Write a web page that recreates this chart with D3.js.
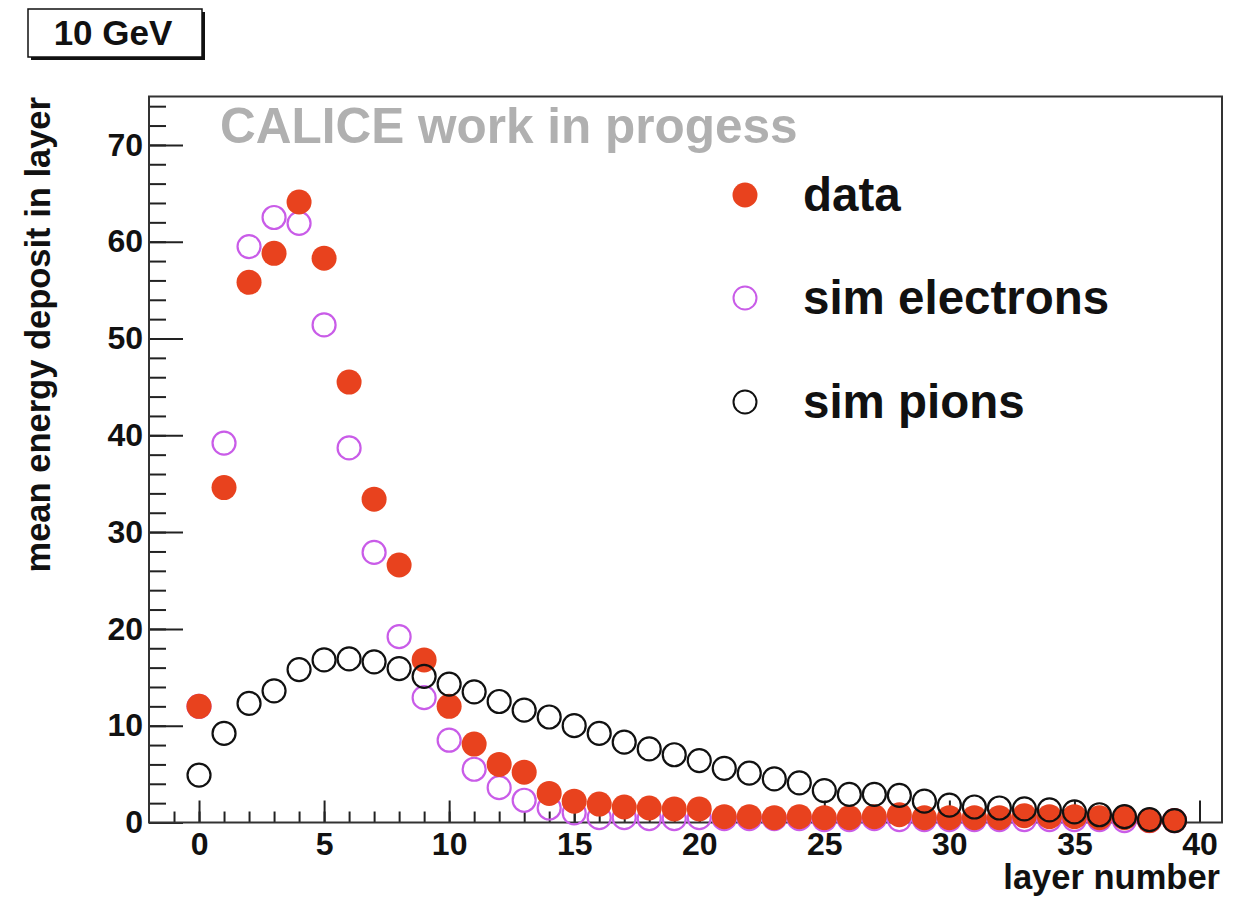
<!DOCTYPE html>
<html>
<head>
<meta charset="utf-8">
<script src="https://cdn.jsdelivr.net/npm/d3@7"></script>
<style>
  html, body { margin: 0; padding: 0; background: #fff; }
  svg { display: block; font-family: "Liberation Sans", Arial, Helvetica, sans-serif; font-weight: bold; }
</style>
</head>
<body>
<svg id="chart" width="1245" height="899"></svg>
<script>
// Mean energy deposit per layer, 10 GeV beam
const layers = d3.range(0, 40);

const dataValues = [
  12.0, 34.6, 55.8, 58.8, 64.1, 58.3, 45.5, 33.4, 26.6, 16.8,
  12.0, 8.1, 6.0, 5.2, 3.0, 2.2, 1.9, 1.6, 1.5, 1.4,
  1.4, 0.6, 0.6, 0.5, 0.6, 0.5, 0.5, 0.6, 0.8, 0.5,
  0.5, 0.5, 0.5, 0.7, 0.6, 0.6, 0.5, 0.5, 0.2, 0.2
];

const simElectrons = [
  12.0, 39.2, 59.5, 62.5, 61.9, 51.4, 38.7, 27.9, 19.2, 12.9,
  8.5, 5.5, 3.6, 2.3, 1.5, 1.0, 0.5, 0.5, 0.4, 0.4,
  0.5, 0.4, 0.4, 0.4, 0.4, 0.3, 0.3, 0.4, 0.3, 0.3,
  0.3, 0.3, 0.3, 0.3, 0.3, 0.3, 0.3, 0.2, 0.2, 0.2
];

const simPions = [
  4.9, 9.2, 12.3, 13.6, 15.8, 16.8, 16.9, 16.6, 15.9, 15.1,
  14.3, 13.5, 12.5, 11.6, 10.9, 10.0, 9.2, 8.3, 7.6, 7.0,
  6.4, 5.6, 5.1, 4.5, 4.1, 3.3, 2.9, 2.9, 2.8, 2.2,
  1.8, 1.6, 1.5, 1.4, 1.3, 1.1, 0.8, 0.6, 0.3, 0.2
];

const xTickValues = [0, 5, 10, 15, 20, 25, 30, 35, 40];
const yTickValues = [0, 10, 20, 30, 40, 50, 60, 70];
const legendLabels = ["data", "sim electrons", "sim pions"];

const colors = { data: "#e8421e", electrons: "#c95ce8", pions: "#111111" };

const svg = d3.select("#chart");

const frame = { left: 149, right: 1222, top: 96.5, bottom: 822.5 };

const x = d3.scaleLinear().domain([-2, 40.9]).range([frame.left, frame.right]);
const y = d3.scaleLinear().domain([0, 75]).range([frame.bottom, frame.top]);

// Minor ticks
svg.append("g")
  .attr("transform", `translate(0,${frame.bottom})`)
  .call(d3.axisBottom(x).tickValues(d3.range(-1, 41)).tickSizeInner(-11).tickSizeOuter(0).tickFormat(""))
  .call(g => g.select(".domain").remove())
  .call(g => g.selectAll("line").attr("stroke", "#222").attr("stroke-width", 2));

svg.append("g")
  .attr("transform", `translate(${frame.left},0)`)
  .call(d3.axisLeft(y).tickValues(d3.range(0, 75, 2)).tickSizeInner(-17).tickSizeOuter(0).tickFormat(""))
  .call(g => g.select(".domain").remove())
  .call(g => g.selectAll("line").attr("stroke", "#222").attr("stroke-width", 2));

// Major ticks with labels
svg.append("g")
  .attr("transform", `translate(0,${frame.bottom})`)
  .call(d3.axisBottom(x).tickValues(xTickValues).tickSizeInner(-22).tickSizeOuter(0).tickPadding(10).tickFormat(d3.format("d")))
  .call(g => g.select(".domain").remove())
  .call(g => g.selectAll("line").attr("stroke", "#222").attr("stroke-width", 2))
  .call(g => g.selectAll("text").attr("fill", "#111").style("font-size", "32px").style("font-weight", "bold")
    .style("font-family", "'Liberation Sans', Arial, sans-serif"));

svg.append("g")
  .attr("transform", `translate(${frame.left},0)`)
  .call(d3.axisLeft(y).tickValues(yTickValues).tickSizeInner(-34).tickSizeOuter(0).tickPadding(6).tickFormat(d3.format("d")))
  .call(g => g.select(".domain").remove())
  .call(g => g.selectAll("line").attr("stroke", "#222").attr("stroke-width", 2))
  .call(g => g.selectAll("text").attr("fill", "#111").style("font-size", "32px").style("font-weight", "bold")
    .style("font-family", "'Liberation Sans', Arial, sans-serif"));

// Frame
svg.append("rect")
  .attr("x", frame.left).attr("y", frame.top)
  .attr("width", frame.right - frame.left).attr("height", frame.bottom - frame.top)
  .attr("fill", "none").attr("stroke", "#333").attr("stroke-width", 2);

// Watermark
svg.append("text")
  .attr("x", 220).attr("y", 143)
  .attr("fill", "#b0b0b0")
  .style("font-size", "49.5px")
  .text("CALICE work in progess");

// Markers
const R = 11.5;
const pts = (vals) => layers.map(i => ({ layer: i, value: vals[i] }));

svg.append("g").selectAll("circle")
  .data(pts(simElectrons)).join("circle")
  .attr("cx", d => x(d.layer)).attr("cy", d => y(d.value)).attr("r", R)
  .attr("fill", "none").attr("stroke", colors.electrons).attr("stroke-width", 2.2);

svg.append("g").selectAll("circle")
  .data(pts(dataValues)).join("circle")
  .attr("cx", d => x(d.layer)).attr("cy", d => y(d.value)).attr("r", R + 1)
  .attr("fill", colors.data);

svg.append("g").selectAll("circle")
  .data(pts(simPions)).join("circle")
  .attr("cx", d => x(d.layer)).attr("cy", d => y(d.value)).attr("r", R)
  .attr("fill", "none").attr("stroke", colors.pions).attr("stroke-width", 2.2);

// Legend
const legendY = [195, 298, 402];
const legend = svg.append("g");
legendLabels.forEach((label, k) => {
  const cy = legendY[k];
  if (k === 0) {
    legend.append("circle").attr("cx", 745).attr("cy", cy).attr("r", R + 1).attr("fill", colors.data);
  } else {
    legend.append("circle").attr("cx", 745).attr("cy", cy).attr("r", R)
      .attr("fill", "none").attr("stroke", k === 1 ? colors.electrons : colors.pions).attr("stroke-width", 2);
  }
  legend.append("text").attr("x", 803).attr("y", cy + 16)
    .attr("fill", "#111").style("font-size", "47.5px").text(label);
});

// Axis titles
svg.append("text")
  .attr("x", 1220).attr("y", 889)
  .attr("text-anchor", "end").attr("fill", "#111")
  .style("font-size", "34.5px")
  .text("layer number");

svg.append("text")
  .attr("transform", "translate(50,97) rotate(-90)")
  .attr("text-anchor", "end").attr("fill", "#111")
  .style("font-size", "34.5px")
  .text("mean energy deposit in layer");

// Energy box with shadow
svg.append("rect").attr("x", 31).attr("y", 12).attr("width", 174).attr("height", 48).attr("fill", "#111");
svg.append("rect").attr("x", 28).attr("y", 9).attr("width", 174).attr("height", 48)
  .attr("fill", "#fff").attr("stroke", "#111").attr("stroke-width", 1.5);
svg.append("text").attr("x", 113).attr("y", 45)
  .attr("text-anchor", "middle").attr("fill", "#111")
  .style("font-size", "35px")
  .text("10 GeV");
</script>
</body>
</html>
